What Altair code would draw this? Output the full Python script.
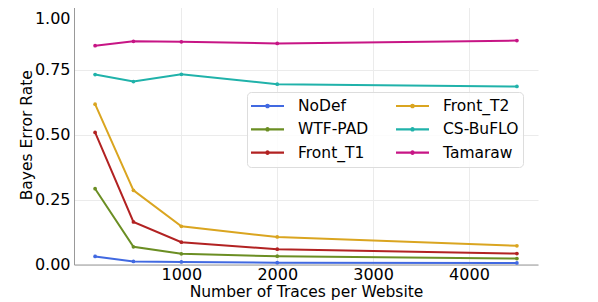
import altair as alt
import pandas as pd

traces = [100, 500, 1000, 2000, 4500]
series_names = ["NoDef", "WTF-PAD", "Front_T1", "Front_T2", "CS-BuFLO", "Tamaraw"]
nodef = [0.031, 0.012, 0.010, 0.007, 0.006]
wtfpad = [0.292, 0.068, 0.041, 0.032, 0.023]
front_t1 = [0.509, 0.164, 0.086, 0.059, 0.042]
front_t2 = [0.618, 0.286, 0.147, 0.106, 0.072]
csbuflo = [0.732, 0.705, 0.733, 0.695, 0.686]
tamaraw = [0.843, 0.860, 0.858, 0.852, 0.863]
colors = ["#4169E1", "#6B8E23", "#B22222", "#DAA520", "#20B2AA", "#C71585"]

values = [nodef, wtfpad, front_t1, front_t2, csbuflo, tamaraw]
rows = []
for name, vals in zip(series_names, values):
    for t, v in zip(traces, vals):
        rows.append({"traces": t, "rate": v, "defense": name})
df = pd.DataFrame(rows)

font = "DejaVu Sans"

chart = alt.Chart(df).mark_line(
    strokeWidth=2,
    point=alt.OverlayMarkDef(size=14, filled=True, opacity=1),
).encode(
    x=alt.X("traces:Q",
            scale=alt.Scale(domain=[-120, 4720], nice=False, zero=False),
            axis=alt.Axis(values=[1000, 2000, 3000, 4000], title="Number of Traces per Website",
                          format="d", ticks=False, labelPadding=2, titlePadding=2,
                          labelFontSize=16, titleFontSize=15.5, labelFont=font, titleFont=font,
                          labelColor="#000", titleColor="#000", titleFontWeight="normal",
                          domainColor="#999", gridColor="#ebebeb", labelFlush=False)),
    y=alt.Y("rate:Q",
            scale=alt.Scale(domain=[0, 1], nice=False),
            axis=alt.Axis(values=[0, 0.25, 0.5, 0.75, 1.0], format=".2f", title="Bayes Error Rate",
                          ticks=False, labelPadding=4, titlePadding=0,
                          labelOffset={"condition": {"test": "datum.value == 1", "value": 13}, "value": 0},
                          labelFontSize=16, titleFontSize=15.5, labelFont=font, titleFont=font,
                          labelColor="#000", titleColor="#000", titleFontWeight="normal",
                          domainColor="#999", gridColor="#ebebeb", labelFlush=False)),
    color=alt.Color("defense:N",
                    scale=alt.Scale(domain=series_names, range=colors),
                    legend=alt.Legend(
                        title=None, orient="none", legendX=173, legendY=87, columns=2,
                        columnPadding=27, rowPadding=3.3, padding=4, clipHeight=20,
                        symbolType="M-1.65,0H1.65M-0.12,0a0.12,0.12 0 1,1 0.24,0a0.12,0.12 0 1,1 -0.24,0",
                        symbolSize=400, symbolStrokeWidth=2.2, symbolOffset=5, labelOffset=19,
                        labelFontSize=15.5, labelFont=font, labelColor="#000",
                        fillColor="rgba(255,255,255,0.85)", strokeColor="#dddddd",
                        cornerRadius=4)),
    order=alt.Order("traces:Q"),
).properties(
    width=464, height=259.5,
    autosize=alt.AutoSizeParams(type="none"),
    padding={"left": 66, "top": -3, "right": 10, "bottom": 40},
).configure_view(stroke=None)

chart.save("out.html", embed_options={"renderer": "svg", "actions": False})
